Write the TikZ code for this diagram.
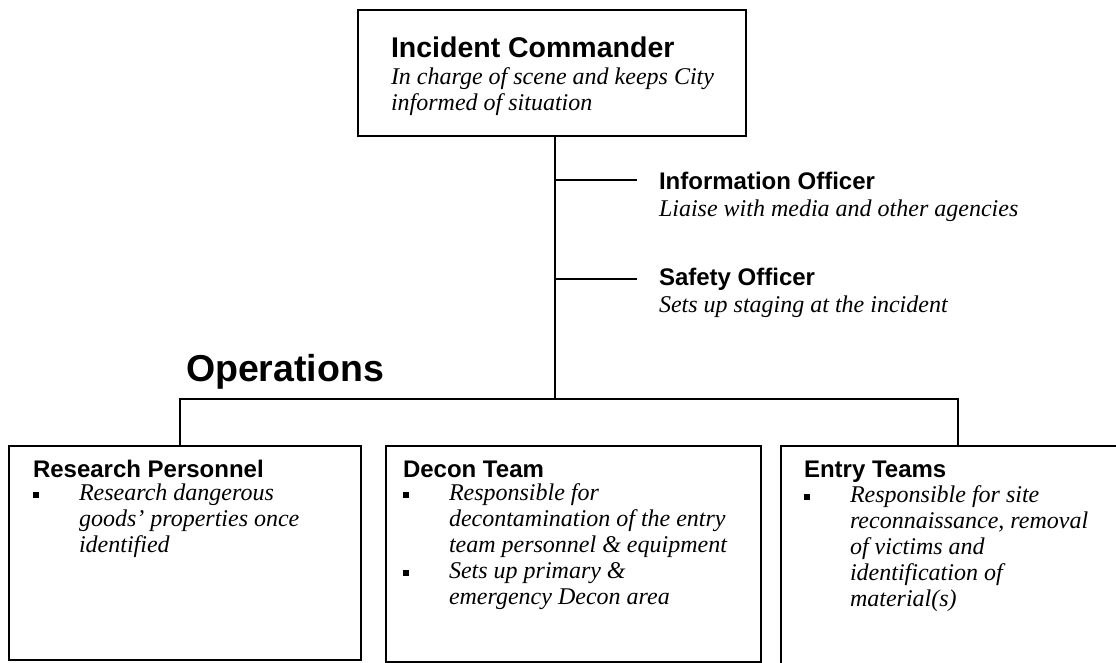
\documentclass[tikz,border=0pt]{standalone}
\usepackage{fontspec}
\setmainfont{Liberation Serif}
\setsansfont{Liberation Sans}
\usetikzlibrary{positioning}

\newcommand{\sqbullet}{\makebox[46pt][l]{\rule[2.5pt]{6pt}{6pt}}}
\newcommand{\ind}{\hspace*{46pt}}
\newcommand{\lines}[1]{\begin{tabular}[t]{@{}l@{}}#1\end{tabular}}

\begin{document}
\begin{tikzpicture}[x=1pt, y=-1pt, line width=2pt,
                    box/.style={draw, anchor=north west, inner sep=0pt},
                    head/.style={inner sep=0pt, anchor=base west, font=\sffamily\bfseries\fontsize{24}{28}\selectfont},
                    desc/.style={inner sep=0pt, anchor=base west, font=\itshape\fontsize{24}{26}\selectfont}]
\useasboundingbox (0,0) rectangle (1116,662);
\clip (0,0) rectangle (1116,662);

% commander
\node[box, minimum width=388, minimum height=126] (ic) at (357,9) {};
\node[head, font=\sffamily\bfseries\fontsize{28.5}{32}\selectfont] (ic-h) at (390,57) {Incident Commander};
\node[desc] (ic-d) at (390,84) {\lines{In charge of scene and keeps City\\informed of situation}};

% staff
\node[head] (io-h) at (658,189) {Information Officer};
\node[desc] (io-d) at (658,216) {Liaise with media and other agencies};
\node[head] (so-h) at (658,285) {Safety Officer};
\node[desc] (so-d) at (658,312) {Sets up staging at the incident};

% operations
\node[head, font=\sffamily\bfseries\fontsize{37.5}{42}\selectfont] (ops) at (185,381) {Operations};
\coordinate (jn) at (555,399);
\coordinate (ld) at (180,399);
\coordinate (rd) at (958,399);

\node[box, minimum width=352, minimum height=214] (rp) at (8,445) {};
\node[box, minimum width=375, minimum height=216] (dt) at (385,445) {};
\node[box, minimum width=356, minimum height=240] (et) at (780,445) {};

\node[head] (rp-h) [below right=32pt and 24pt of rp.north west, anchor=base west] {Research Personnel};
\node[desc] (rp-d) [below=23pt of rp-h.base west, anchor=base west] {\lines{\sqbullet Research dangerous\\\ind goods' properties once\\\ind identified}};
\node[head] (dt-h) [below right=32pt and 17pt of dt.north west, anchor=base west] {Decon Team};
\node[desc] (dt-d) [below=23pt of dt-h.base west, anchor=base west] {\lines{\sqbullet Responsible for\\\ind decontamination of the entry\\\ind team personnel \& equipment\\\sqbullet Sets up primary \&\\\ind emergency Decon area}};
\node[head] (et-h) [below right=32pt and 23pt of et.north west, anchor=base west] {Entry Teams};
\node[desc] (et-d) [below=25pt of et-h.base west, anchor=base west] {\lines{\sqbullet Responsible for site\\\ind reconnaissance, removal\\\ind of victims and\\\ind identification of\\\ind material(s)}};

% lines
\draw (ic.south -| jn) -- (jn);
\draw (io-h.west -| jn) -- ([xshift=-21pt]io-h.west);
\draw (so-h.west -| jn) -- ([xshift=-21pt]so-h.west);
\draw (ld |- rp.north) -- (ld) -- (rd) -- (rd |- et.north);
\end{tikzpicture}
\end{document}
